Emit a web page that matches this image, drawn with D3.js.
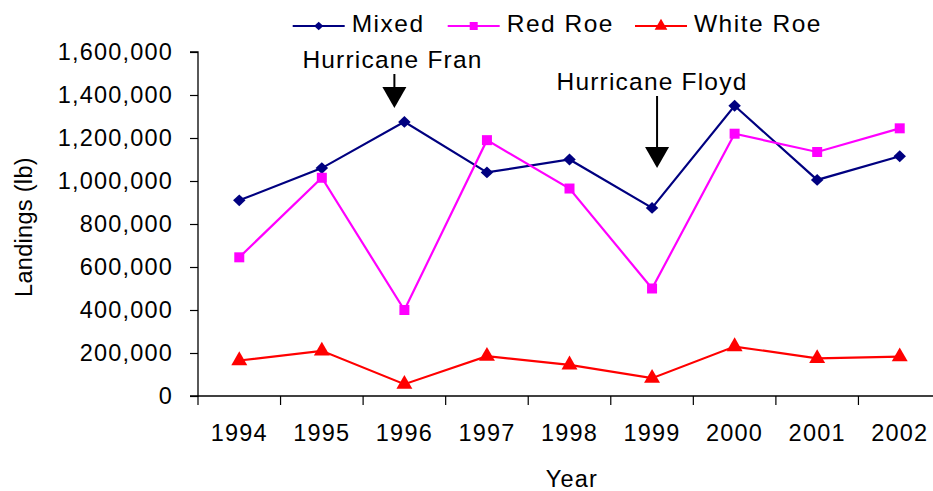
<!DOCTYPE html>
<html><head><meta charset="utf-8">
<script src="https://cdn.jsdelivr.net/npm/d3@7"></script>
<style>
body{margin:0;background:#fff;}
text{font-family:Arial,"Liberation Sans",sans-serif;fill:#000;}
</style></head>
<body><svg id="c" width="933" height="491"></svg>
<script>
const years = ["1994","1995","1996","1997","1998","1999","2000","2001","2002"];
const mixed = [910000,1060000,1275000,1040000,1100000,875000,1350000,1005000,1115000];
const redRoe = [645000,1015000,400000,1190000,965000,500000,1220000,1135000,1245000];
const whiteRoe = [165000,210000,55000,185000,145000,83000,230000,175000,183000];
const yTicks = [0,200000,400000,600000,800000,1000000,1200000,1400000,1600000];
const seriesNames = ["Mixed","Red Roe","White Roe"];
const seriesColors = ["#000080","#FF00FF","#FF0000"];
const diamondType = {draw(ctx,size){const r=Math.sqrt(size)/2;ctx.moveTo(0,-r*0.95);ctx.lineTo(r,0);ctx.lineTo(0,r*0.95);ctx.lineTo(-r,0);ctx.closePath();}};
const seriesShapes = [diamondType, d3.symbolSquare, d3.symbolTriangle];
const annotations = [{text:"Hurricane Fran", year:"1996", dx:-10, textX:392.5, textY:68, lineTop:74, tipY:108},
                     {text:"Hurricane Floyd", year:"1999", dx:5, textX:652, textY:90, lineTop:96, tipY:168}];

const svg = d3.select("#c");
const pLeft=198, pRight=941, pTop=52, pBottom=396;
const x = d3.scaleBand().domain(years).range([pLeft,pRight]);
const y = d3.scaleLinear().domain([0,1600000]).range([pBottom,pTop]);
const fmt = d3.format(",");

// y axis
const ya = svg.append("g").attr("transform",`translate(${pLeft},0)`)
  .call(d3.axisLeft(y).tickValues(yTicks).tickFormat(fmt).tickSize(8).tickPadding(17));
ya.select(".domain").attr("stroke","#000").attr("stroke-width",1.3).attr("d",`M-8,${pTop}H0V${pBottom}H-8`);
ya.selectAll(".tick line").attr("stroke","#000").attr("stroke-width",1.2);
ya.selectAll("text").attr("font-size",23.5).style("letter-spacing","1.2px").attr("fill","#000").attr("font-family","Arial");

// x axis
const xa = svg.append("g").attr("transform",`translate(0,${pBottom})`)
  .call(d3.axisBottom(x).tickSize(0).tickPadding(0));
xa.select(".domain").attr("stroke","#000").attr("stroke-width",1.3).attr("d",`M${pLeft},0H933`);
xa.selectAll("text").attr("font-size",23.5).style("letter-spacing","1.2px").attr("dy","1.9em").attr("fill","#000").attr("font-family","Arial");
xa.selectAll(".xb").data(years).enter().append("line").attr("class","xb")
  .attr("x1",d=>x(d)).attr("x2",d=>x(d)).attr("y1",0).attr("y2",9)
  .attr("stroke","#000").attr("stroke-width",1.2);

// titles
svg.append("text").attr("x",572).attr("y",487).attr("text-anchor","middle").attr("font-size",23.5).style("letter-spacing","1.2px").text("Year");
svg.append("text").attr("transform","translate(31.5,227) rotate(-90)").attr("text-anchor","middle").attr("font-size",23.5).style("letter-spacing","0.3px").text("Landings (lb)");

// series
const allSeries = [mixed, redRoe, whiteRoe];
const cx = d => x(d)+x.bandwidth()/2;
const line = d3.line().x((d,i)=>cx(years[i])).y(d=>y(d));
const symSizes = [156, 100, 110];
const legSizes = [84, 64, 70];
allSeries.forEach((vals,si)=>{
  svg.append("path").datum(vals).attr("d",line).attr("fill","none")
    .attr("stroke",seriesColors[si]).attr("stroke-width",2.2);
  svg.selectAll(".m"+si).data(vals).enter().append("path")
    .attr("transform",(d,i)=>`translate(${cx(years[i])},${y(d)})`)
    .attr("d",d3.symbol().type(seriesShapes[si]).size(symSizes[si]))
    .attr("fill",seriesColors[si]);
});

// annotations
annotations.forEach(a=>{
  const ax = cx(a.year)+a.dx;
  svg.append("text").attr("x",a.textX).attr("y",a.textY).attr("text-anchor","middle")
    .attr("font-size",24.5).style("letter-spacing","1.2px").text(a.text);
  svg.append("line").attr("x1",ax).attr("x2",ax).attr("y1",a.lineTop).attr("y2",a.tipY-20)
    .attr("stroke","#000").attr("stroke-width",2);
  svg.append("path").attr("d",`M${ax-12},${a.tipY-21}L${ax+12},${a.tipY-21}L${ax},${a.tipY}Z`).attr("fill","#000");
});

// legend
const legX = [292.7,447.7,635];
seriesNames.forEach((n,i)=>{
  const g = svg.append("g").attr("transform",`translate(${legX[i]},26)`);
  g.append("line").attr("x1",0).attr("x2",52).attr("stroke",seriesColors[i]).attr("stroke-width",2.2);
  g.append("path").attr("transform","translate(26,0)").attr("d",d3.symbol().type(seriesShapes[i]).size(legSizes[i])).attr("fill",seriesColors[i]);
  g.append("text").attr("x",59).attr("y",6).attr("font-size",24.5).style("letter-spacing","1.5px").text(n);
});
</script></body></html>
